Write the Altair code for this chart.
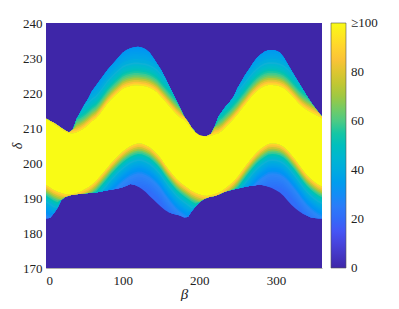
import altair as alt
import pandas as pd

# sampled beta positions (deg)
beta = list(range(0, 361, 5))

# upper edge of the non-zero region (delta)
top_bound = [212.8, 212.1, 211.5, 210.8, 210.0, 209.3, 208.7, 209.5, 212.6, 214.5,
             216.6, 218.3, 220.5, 222.0, 223.5, 225.0, 226.5, 227.8, 229.0, 230.3,
             231.5, 232.3, 232.8, 233.1, 233.2, 233.0, 232.5, 231.6, 230.0, 228.3,
             226.6, 224.5, 222.3, 220.0, 217.8, 215.6, 213.3, 211.8, 210.0, 208.8,
             208.0, 207.7, 207.7, 208.2, 210.3, 213.2, 214.8, 216.3, 217.5, 219.0,
             221.4, 223.3, 225.2, 226.8, 228.5, 230.0, 231.0, 231.8, 232.2, 232.3,
             232.1, 231.6, 230.2, 228.3, 226.4, 224.6, 222.8, 221.0, 219.2, 217.5,
             216.0, 214.6, 213.2]

# upper edge of the saturated (>=100) band
yellow_top = [212.8, 212.0, 211.2, 210.5, 209.8, 209.1, 208.6, 208.5, 208.8, 209.3,
              210.0, 210.9, 211.9, 212.7, 214.0, 215.5, 217.0, 218.2, 219.3, 220.3,
              221.2, 221.7, 222.0, 222.2, 222.2, 222.1, 221.9, 221.6, 221.0, 220.2,
              219.0, 217.8, 216.5, 215.2, 214.0, 213.0, 212.5, 211.3, 209.8, 208.8,
              208.0, 207.7, 207.6, 207.8, 208.2, 208.5, 209.3, 210.4, 211.5, 212.7,
              214.0, 215.4, 216.8, 218.2, 219.5, 220.6, 221.4, 222.0, 222.3, 222.3,
              222.2, 221.9, 221.4, 220.6, 219.4, 218.2, 217.0, 216.0, 215.2, 214.6,
              214.0, 213.4, 212.8]

# lower edge of the saturated band
yellow_bot = [193.7, 193.0, 192.3, 191.8, 191.4, 191.1, 191.0, 191.1, 191.4, 191.8,
              192.4, 193.0, 193.8, 194.8, 196.0, 197.3, 198.6, 199.9, 201.1, 202.2,
              203.2, 204.1, 204.8, 205.3, 205.6, 205.5, 205.1, 204.5, 203.6, 202.5,
              201.2, 199.6, 198.1, 196.7, 195.4, 194.4, 193.6, 192.8, 192.0, 191.4,
              191.0, 190.7, 190.6, 190.8, 191.1, 191.5, 192.1, 192.9, 193.8, 194.8,
              196.0, 197.5, 199.0, 200.4, 201.8, 203.0, 204.0, 204.8, 205.4, 205.6,
              205.5, 205.2, 204.6, 203.6, 202.3, 200.9, 199.4, 197.9, 196.6, 195.5,
              194.6, 193.8, 193.2]

# lower edge of the non-zero region
bot_bound = [184.2, 184.3, 185.6, 187.2, 189.5, 190.3, 190.7, 190.9, 191.1, 191.2,
             191.3, 191.4, 191.5, 191.6, 191.8, 192.0, 192.2, 192.4, 192.6, 192.8,
             193.1, 193.5, 194.0, 193.8, 193.3, 192.6, 191.7, 190.6, 189.6, 188.5,
             187.5, 186.6, 185.9, 185.5, 185.3, 185.0, 184.5, 184.6, 186.3, 187.6,
             188.8, 189.6, 190.1, 190.4, 190.6, 191.0, 191.5, 191.9, 192.2, 192.5,
             192.7, 193.0, 193.2, 193.4, 193.5, 193.7, 193.8, 193.6, 193.2, 192.8,
             192.2, 191.6, 190.6, 189.3, 188.1, 187.1, 186.2, 185.5, 185.0, 184.5,
             184.3, 184.2, 184.2]

# values read going away from the saturated band, one per 0.5 of delta
upper_profile = [92, 86, 80, 73, 67, 62, 58, 55, 52, 49, 47, 45, 43, 41, 40, 38,
                 37, 36, 35, 34, 33, 32, 31, 30]
lower_profile = [90, 84, 77, 70, 63, 57, 53, 49, 46, 43, 41, 39, 37, 35, 33, 32,
                 30, 29, 28, 27, 26, 25, 24, 23, 22, 21]

parula = ["#3e26a8", "#4852f4", "#2e87f7", "#12b1d6", "#37c897", "#abc739",
          "#fec338", "#f9fb15"]
# colour stops; the outer two sit a hair beyond 0 and 100 so that the end labels
# of the colour bar are centred on its ends
parula_stops = [-0.001, 100 / 7, 200 / 7, 300 / 7, 400 / 7, 500 / 7, 600 / 7, 100.001]

x_ticks = [0, 100, 200, 300]
y_ticks = [170, 180, 190, 200, 210, 220, 230, 240]
cbar_ticks = [0, 20, 40, 60, 80, 100]

STEP = 0.5

# Bands: drawn outermost first, each one overlapping those beneath it.
rows = []
band = 0
nu, nl = len(upper_profile), len(lower_profile)
for k in range(max(nu, nl) - 1, -1, -1):
    if k < nu:
        for i, b in enumerate(beta):
            yt, tb = yellow_top[i], top_bound[i]
            hi = tb if k == nu - 1 else min(yt + (k + 1) * STEP, tb)
            rows.append(dict(band=band, b=b, lo=yt, hi=hi, v=upper_profile[k]))
        band += 1
    if k < nl:
        for i, b in enumerate(beta):
            yb, bb = yellow_bot[i], bot_bound[i]
            lo = bb if k == nl - 1 else max(yb - (k + 1) * STEP, bb)
            rows.append(dict(band=band, b=b, lo=lo, hi=yb, v=lower_profile[k]))
        band += 1
for i, b in enumerate(beta):
    rows.append(dict(band=band, b=b, lo=yellow_bot[i], hi=yellow_top[i], v=100))
n_bands = band + 1

df = pd.DataFrame(rows)
bg = pd.DataFrame([dict(x=0, x2=360, y=170, y2=240, v=0)])

FONT = "Liberation Serif, Times New Roman, DejaVu Serif, serif"

xscale = alt.Scale(domain=[0, 360], nice=False, zero=False)
yscale = alt.Scale(domain=[170, 240], nice=False, zero=False)
cscale = alt.Scale(domain=parula_stops, range=parula, clamp=True)

xaxis = alt.Axis(values=x_ticks, title="β", format="d", ticks=False, tickSize=0,
                 labelPadding=6, grid=False, titleY=30, titleBaseline="alphabetic")
yaxis = alt.Axis(values=y_ticks, title="δ", format="d", ticks=False, tickSize=0,
                 labelPadding=4, grid=False, titleX=-25, titleBaseline="alphabetic",
                 titleFontSize=14)
legend = alt.Legend(title=None, type="gradient", values=cbar_ticks,
                    direction="vertical", gradientLength=245, gradientThickness=15,
                    gradientStrokeColor="#555", gradientStrokeWidth=0.6,
                    labelExpr="datum.value == 100 ? '≥100' : datum.label",
                    labelFont=FONT, labelFontSize=13, labelColor="#222",
                    labelOffset=5, offset=9, orient="right", labelOverlap=False)

background = alt.Chart(bg).mark_rect().encode(
    x=alt.X("x:Q", scale=xscale, axis=xaxis),
    x2="x2:Q",
    y=alt.Y("y:Q", scale=yscale, axis=yaxis),
    y2="y2:Q",
    color=alt.Color("v:Q", scale=cscale, legend=legend),
)

base = alt.Chart(df).mark_area(interpolate="linear").encode(
    x=alt.X("b:Q", scale=xscale, axis=xaxis),
    y=alt.Y("lo:Q", scale=yscale, axis=yaxis),
    y2="hi:Q",
    color=alt.Color("v:Q", scale=cscale, legend=legend),
)

layers = [background] + [base.transform_filter(alt.datum.band == j) for j in range(n_bands)]

chart = alt.layer(*layers).properties(
    width=276, height=245,
    autosize=alt.AutoSizeParams(type="none"),
    padding={"left": 38, "top": 15, "right": 60, "bottom": 33},
).configure_view(stroke=None).configure_axis(
    labelFont=FONT, labelFontSize=13, labelColor="#222",
    titleFont=FONT, titleFontSize=15, titleFontStyle="italic",
    titleFontWeight="normal", titleColor="#222",
    domainColor="#777", domainWidth=0.6,
)

chart.save("out.html", embed_options={"renderer": "svg", "actions": False})
